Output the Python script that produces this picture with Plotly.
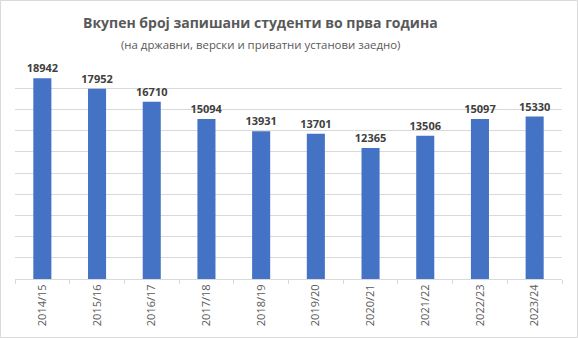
import plotly.graph_objects as go

years = ["2014/15", "2015/16", "2016/17", "2017/18", "2018/19",
         "2019/20", "2020/21", "2021/22", "2022/23", "2023/24"]
students = [18942, 17952, 16710, 15094, 13931, 13701, 12365, 13506, 15097, 15330]

W, H = 578, 338
ml, mr, mt, mb = 15, 16, 67, 59
pw = W - ml - mr
ph = H - mt - mb

fig = go.Figure(go.Bar(
    x=years, y=students,
    marker=dict(color="#4472C4", line=dict(width=0)),
    text=[str(v) for v in students],
    textposition="outside",
    constraintext="none",
    textfont=dict(family="Open Sans", size=11, color="#404040", weight="bold"),
    cliponaxis=False,
    width=0.33,
))

fig.update_layout(
    width=W, height=H,
    margin=dict(l=ml, r=mr, t=mt, b=mb),
    paper_bgcolor="white", plot_bgcolor="white",
    showlegend=False,
    font=dict(family="Open Sans", color="#595959"),
    xaxis=dict(
        tickangle=-90, tickfont=dict(size=11, color="#595959"),
        showline=True, linecolor="#D9D9D9", linewidth=1,
        ticks="outside", tickson="boundaries", ticklen=4, tickcolor="#D9D9D9",
        showgrid=False,
    ),
    yaxis=dict(
        range=[0, 20000], dtick=2000, showticklabels=False,
        showgrid=True, gridcolor="#D9D9D9", gridwidth=1, zeroline=False,
    ),
    annotations=[
        dict(text="<b>Вкупен број запишани студенти во прва година</b>",
             xref="paper", yref="paper",
             x=(260 - ml) / pw, y=1 + (mt - 22) / ph,
             xanchor="center", yanchor="middle", showarrow=False,
             font=dict(family="Open Sans", size=14, color="#595959")),
        dict(text="(на државни, верски и приватни установи заедно)",
             xref="paper", yref="paper",
             x=(260 - ml) / pw, y=1 + (mt - 44) / ph,
             xanchor="center", yanchor="middle", showarrow=False,
             font=dict(family="Open Sans", size=11.4, color="#595959")),
    ],
    shapes=[
        dict(type="rect", xref="paper", yref="paper",
             x0=-(ml - 0.5) / pw, x1=1 + (mr - 0.5) / pw,
             y0=-(mb - 0.5) / ph, y1=1 + (mt - 0.5) / ph,
             line=dict(color="#D9D9D9", width=1), layer="below"),
    ],
)

fig.write_html("out.html")
